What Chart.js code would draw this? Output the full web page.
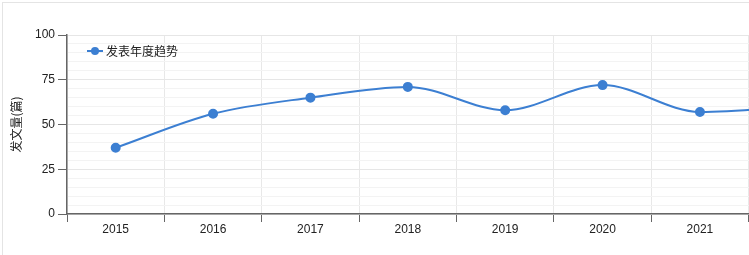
<!DOCTYPE html>
<html lang="zh">
<head>
  <meta charset="UTF-8">
  <title>发表年度趋势</title>
  <script src="https://cdn.jsdelivr.net/npm/chart.js"></script>
  <style>
    html, body { margin: 0; padding: 0; background: #fff; overflow: hidden; }
    /* 图表比窗口宽，最后一年被窗口裁掉 */
    #chartContainer { position: absolute; left: 0; top: 0; width: 852px; height: 255px; }
    #frame {
      position: absolute; left: 2px; top: 2px; width: 900px; height: 300px;
      border: 1px solid #e4e4e4; pointer-events: none;
    }
  </style>
</head>
<body>
  <div id="frame"></div>
  <div id="chartContainer">
    <canvas id="myChart"></canvas>
  </div>

  <script>
    // 年份
    const years = ['2015', '2016', '2017', '2018', '2019', '2020', '2021', '2022'];
    // 发文量
    const counts = [37, 56, 65, 71, 58, 72, 57, 60];
    const seriesName = '发表年度趋势';
    const yTitle = '发文量(篇)';
    const lineColor = '#3c7fd2';

    const latin = "'Liberation Sans', Arial, sans-serif";
    const cjk = "'Noto Sans CJK SC', 'Liberation Sans', sans-serif";

    // 图内左上角的图例
    const innerLegend = {
      id: 'innerLegend',
      afterDatasetsDraw(chart) {
        const ctx = chart.ctx;
        const area = chart.chartArea;
        const x = area.left + 20;
        const y = area.top + 16;
        ctx.save();
        ctx.strokeStyle = lineColor;
        ctx.lineWidth = 2;
        ctx.beginPath();
        ctx.moveTo(x, y);
        ctx.lineTo(x + 16, y);
        ctx.stroke();
        ctx.fillStyle = lineColor;
        ctx.beginPath();
        ctx.arc(x + 8, y, 4, 0, Math.PI * 2);
        ctx.fill();
        ctx.fillStyle = '#222';
        ctx.font = '12px ' + cjk;
        ctx.textBaseline = 'middle';
        ctx.fillText(chart.data.datasets[0].label, x + 19, y);
        ctx.restore();
      }
    };

    const ctx = document.getElementById('myChart').getContext('2d');
    new Chart(ctx, {
      type: 'line',
      data: {
        labels: years,
        datasets: [{
          label: seriesName,
          data: counts,
          borderColor: lineColor,
          backgroundColor: lineColor,
          borderWidth: 2,
          pointRadius: 4,
          pointHoverRadius: 4,
          cubicInterpolationMode: 'monotone',
          fill: false
        }]
      },
      options: {
        responsive: true,
        maintainAspectRatio: false,
        animation: false,
        layout: { padding: { top: 35, right: 0, bottom: 0, left: 0 } },
        plugins: {
          legend: { display: false },
          tooltip: { enabled: false }
        },
        scales: {
          x: {
            type: 'category',
            offset: true,
            grid: {
              offset: true,
              color: '#e8e8e8',
              tickColor: '#666',
              tickLength: 8
            },
            border: { color: '#666', width: 1.5 },
            ticks: {
              color: '#222',
              font: { size: 12, family: latin },
              padding: 0,
              maxRotation: 0
            },
            afterFit(scale) { scale.height = 41; }
          },
          y: {
            min: 0,
            max: 100,
            grid: {
              color: c => (c.tick && c.tick.value % 25 === 0) ? '#e6e6e6' : '#f3f3f3',
              tickColor: c => (c.tick && c.tick.value % 25 === 0) ? '#666' : 'rgba(0,0,0,0)',
              tickLength: 9
            },
            border: { color: '#666', width: 1.5 },
            ticks: {
              stepSize: 5,
              autoSkip: false,
              color: '#222',
              font: { size: 12, family: latin },
              padding: 3,
              callback: v => (v % 25 === 0 ? v : '')
            },
            title: {
              display: true,
              text: yTitle,
              color: '#222',
              font: { size: 12, family: cjk },
              padding: { top: 9, bottom: 0 }
            },
            afterFit(scale) { scale.width = 67; }
          }
        }
      },
      plugins: [innerLegend]
    });
  </script>
</body>
</html>
